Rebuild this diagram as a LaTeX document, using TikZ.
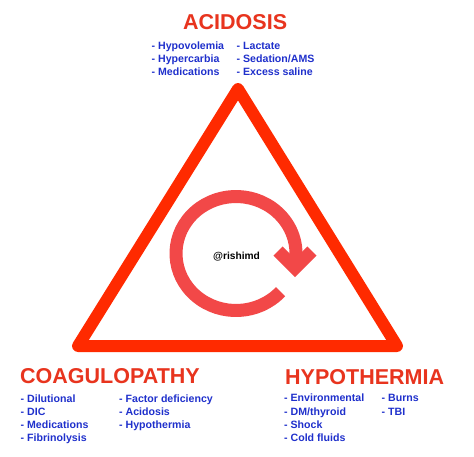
\documentclass[tikz,border=0pt]{standalone}
\usepackage{fontspec}
\setmainfont{Liberation Sans}
\definecolor{trired}{HTML}{FF2A00}
\definecolor{cycred}{HTML}{F24848}
\definecolor{titred}{HTML}{E8341E}
\definecolor{listblue}{HTML}{1F30CC}
\begin{document}
\begin{tikzpicture}[x=1pt,y=-1pt,
  titlebox/.style={anchor=base west,inner sep=0pt,font=\fontsize{21.5}{24}\selectfont\bfseries,text=titred},
  listbox/.style={anchor=base west,inner sep=0pt,font=\fontsize{10.6}{13.2}\selectfont\bfseries,text=listblue,align=left}]
\useasboundingbox[fill=white] (0,0) rectangle (474,456);
% triangle
\coordinate (apex) at (238,89);
\coordinate (bl) at (78,346);
\coordinate (br) at (397,346);
\draw[trired,line width=12pt,line join=round] (apex) -- (bl) -- (br) -- cycle;
% cycle arrow
\coordinate (cc) at (236,253.5);
\draw[cycred,line width=13pt] ([shift={(42:60 and 57)}]cc) arc[start angle=42,end angle=372,x radius=60,y radius=57];
\coordinate (tipv) at (295,268);
\coordinate (arml) at (278,251);
\coordinate (armr) at (312,251);
\draw[cycred,line width=13pt,line join=miter] (arml) -- (tipv) -- (armr);
\node[anchor=base,inner sep=0pt,font=\fontsize{10.2}{12}\selectfont\bfseries] (tag) at (236.5,259) {@rishimd};
% titles
\node[titlebox] (acid) at (183,29.3) {ACIDOSIS};
\node[titlebox] (coag) at (20,383.3) {COAGULOPATHY};
\node[titlebox] (hypo) at (285,384) {HYPOTHERMIA};
% lists (base anchor = baseline of last line)
\node[listbox] (a1) at (151.5,75.7) {- Hypovolemia\\- Hypercarbia\\- Medications};
\node[listbox] (a2) at (236.5,75.7) {- Lactate\\- Sedation/AMS\\- Excess saline};
\node[listbox] (c1) at (20.5,441.8) {- Dilutional\\- DIC\\- Medications\\- Fibrinolysis};
\node[listbox] (c2) at (119,428.6) {- Factor deficiency\\- Acidosis\\- Hypothermia};
\node[listbox] (h1) at (284,441.4) {- Environmental\\- DM/thyroid\\- Shock\\- Cold fluids};
\node[listbox] (h2) at (381.5,415) {- Burns\\- TBI};
\end{tikzpicture}
\end{document}
